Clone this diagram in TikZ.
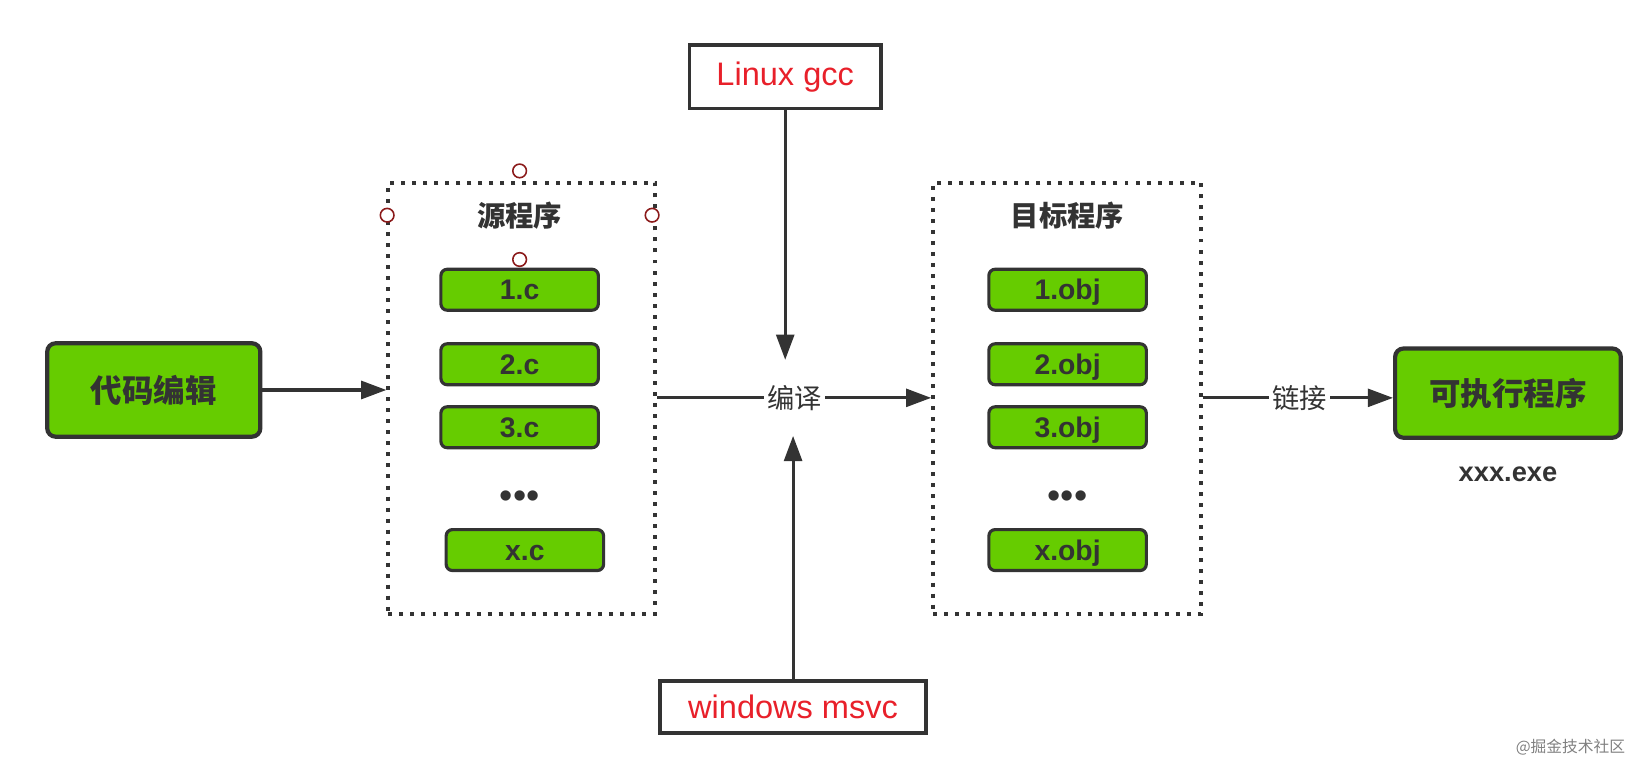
\documentclass[tikz,border=0pt]{standalone}
\usepackage{fontspec}
\setmainfont{Liberation Sans}
\newfontfamily\cjk{Noto Sans CJK SC}
\usepackage{xcolor}
\usetikzlibrary{positioning}
\usetikzlibrary{arrows.meta}
\definecolor{boxgreen}{HTML}{66CC00}
\definecolor{ink}{HTML}{333333}
\definecolor{toolred}{HTML}{E8202A}
\definecolor{gripred}{HTML}{8B1A1A}
\tikzset{
  bigbox/.style={draw=ink, fill=boxgreen, line width=4pt, rounded corners=8pt, text=ink,
    inner sep=0pt, font=\cjk\bfseries\fontsize{30}{36}\selectfont},
  filebox/.style={draw=ink, fill=boxgreen, line width=3pt, rounded corners=6pt, text=ink,
    minimum width=150pt, minimum height=39pt, inner sep=0pt, text height=19pt, text depth=0pt,
    font=\bfseries\fontsize{27}{32}\selectfont},
  toolbox/.style={draw=ink, line width=3.5pt, text=toolred, inner sep=0pt,
    font=\fontsize{31}{36}\selectfont},
  group/.style={draw=ink, line width=3.8pt, dash pattern=on 3.8pt off 6.7pt,
    minimum width=254pt, minimum height=411pt, inner sep=0pt},
  grouptitle/.style={text=ink, font=\cjk\bfseries\fontsize{27}{32}\selectfont},
  steplabel/.style={text=ink, inner xsep=3pt, minimum height=72pt, font=\cjk\fontsize{26}{30}\selectfont},
  flow/.style={draw=ink, line width=3pt, -{Triangle[length=24pt,width=17pt]}},
  link/.style={draw=ink, line width=3pt},
  grip/.style={circle, draw=gripred, fill=white, line width=1.5pt, minimum size=13pt, inner sep=0pt},
  moredots/.style={text=ink, font=\fontsize{36}{36}\selectfont}
}
\begin{document}
\begin{tikzpicture}[x=1pt, y=-1pt]
\useasboundingbox (0,0) rectangle (1568,739);

% source side
\node[bigbox, minimum width=203pt, minimum height=89pt] (edit) at (146.5,371.5) {代码编辑};
\node[group] (srcgroup) at (497,379.5) {};
\node[grouptitle, minimum width=252pt, minimum height=84pt] (srctitle) at (495,205) {源程序};
\foreach \n/\y in {1/276, 2/347, 3/407}
  \node[filebox] (src\n) at (495,\y) {\n.c};
\node[moredots] (srcdots) at (495,476) {•••};
\node[filebox] (srcx) at (500,524) {x.c};

% selection handles round the title
\foreach \a in {north, south, west, east}
  \node[grip] (grip-\a) at (srctitle.\a) {};

% compilers
\node[toolbox, minimum width=182.5pt, minimum height=60.5pt] (gcc) at (748,73) {Linux gcc};
\node[toolbox, minimum width=253.5pt, minimum height=49.5pt] (msvc) at (755.5,673.5) {windows msvc};
\node[steplabel] (compile) at (757,379) {编译};

% object side
\node[group, minimum width=255pt] (objgroup) at (1016.5,379.5) {};
\node[grouptitle] (objtitle) at (1017,205) {目标程序};
\foreach \n/\y in {1/276, 2/347, 3/407}
  \node[filebox] (obj\n) at (1017,\y) {\n.obj};
\node[moredots] (objdots) at (1017,476) {•••};
\node[filebox] (objx) at (1017,524) {x.obj};

% linker
\node[steplabel] (linking) at (1238,379) {链接};
\node[bigbox, minimum width=215pt, minimum height=85pt] (exe) at (1436.5,374.5) {可执行程序};
\node[below=22pt of exe, text=ink, font=\bfseries\fontsize{26}{30}\selectfont] (exename) {xxx.exe};

\node[text=gray, font=\cjk\fontsize{15}{18}\selectfont] (mark) at (1496,712) {@掘金技术社区};

\draw[flow] (edit) -- (edit -| srcgroup.west);
\draw[link] (srcgroup.east |- compile) -- (compile);
\draw[flow] (compile) -- (compile -| objgroup.west);
\draw[flow] (gcc) -- (gcc |- compile.north);
\draw[flow] (msvc) -- (msvc |- compile.south);
\draw[link] (objgroup.east |- linking) -- (linking);
\draw[flow] (linking) -- (linking -| exe.west);
\end{tikzpicture}
\end{document}
